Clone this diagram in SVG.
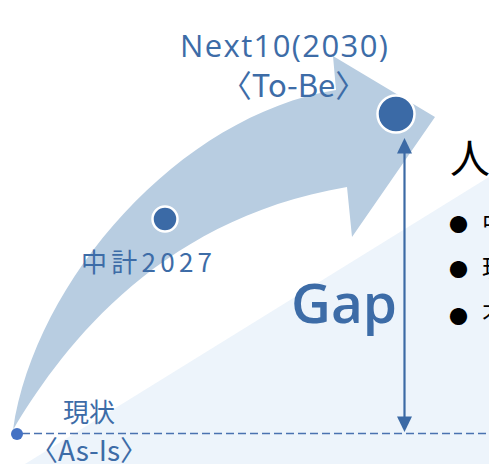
<svg xmlns="http://www.w3.org/2000/svg" width="489" height="464" viewBox="0 0 489 464">
<style>
.lbl{font-family:"Noto Sans CJK JP","Noto Sans",sans-serif;fill:#3D6CA7}
.lat{font-family:"Open Sans","Noto Sans","Noto Sans CJK JP",sans-serif;fill:#3D6CA7}
.blk{font-family:"Noto Sans CJK JP","Noto Sans",sans-serif;fill:#000}
.pt{fill:#3B6AA6;stroke:#fff;stroke-width:2.5}
</style>
<rect width="489" height="464" fill="#fff"/>
<g id="background">
<polygon points="489,177 25,464 489,464" fill="#EDF4FB"/>
</g>
<g id="growth-arrow">
<path d="M13,430 C35,280 180,115 336,90 L333,56 L435,117 L352,237 L347,187 C150,220 55,360 13,430 Z" fill="#B8CDE1"/>
</g>
<g id="connectors">
<line x1="22" y1="433.5" x2="489" y2="433.5" stroke="#4A72B0" stroke-width="1.3" stroke-dasharray="8 4"/>
<line x1="404.5" y1="150" x2="404.5" y2="420" stroke="#3C6AA5" stroke-width="2.2"/>
<polygon points="404.5,138 397,153.5 412,153.5" fill="#3C6AA5"/>
<polygon points="404.5,432 397,416.5 412,416.5" fill="#3C6AA5"/>
</g>
<g id="as-is">
<circle cx="17" cy="434" r="6" fill="#4472C4"/>
<text class="lbl" x="63" y="422" font-size="26">現状</text>
<text class="lbl" x="89" y="461" font-size="28" text-anchor="middle">〈As-Is〉</text>
</g>
<g id="midterm">
<circle class="pt" cx="165" cy="219" r="12.5"/>
<text class="lbl" x="81" y="272" font-size="26" textLength="131" lengthAdjust="spacing">中計2027</text>
</g>
<g id="to-be">
<circle class="pt" cx="396" cy="114" r="18.5"/>
<text class="lat" x="180" y="57" font-size="31" textLength="208" lengthAdjust="spacing">Next10(2030)</text>
<text class="lbl" x="293.5" y="97" font-size="31" text-anchor="middle">〈To-Be〉</text>
</g>
<g id="gap">
<text class="lat" x="291" y="323" font-size="55" font-weight="600">Gap</text>
</g>
<g id="side-text">
<text class="blk" x="450" y="173" font-size="40">人</text>
<text class="blk" y="232" font-size="24"><tspan x="449" font-size="19">●</tspan><tspan x="482">中</tspan></text>
<text class="blk" y="277" font-size="24"><tspan x="449" font-size="19">●</tspan><tspan x="482">現</tspan></text>
<text class="blk" y="324" font-size="24"><tspan x="449" font-size="19">●</tspan><tspan x="482">不</tspan></text>
</g>
</svg>
